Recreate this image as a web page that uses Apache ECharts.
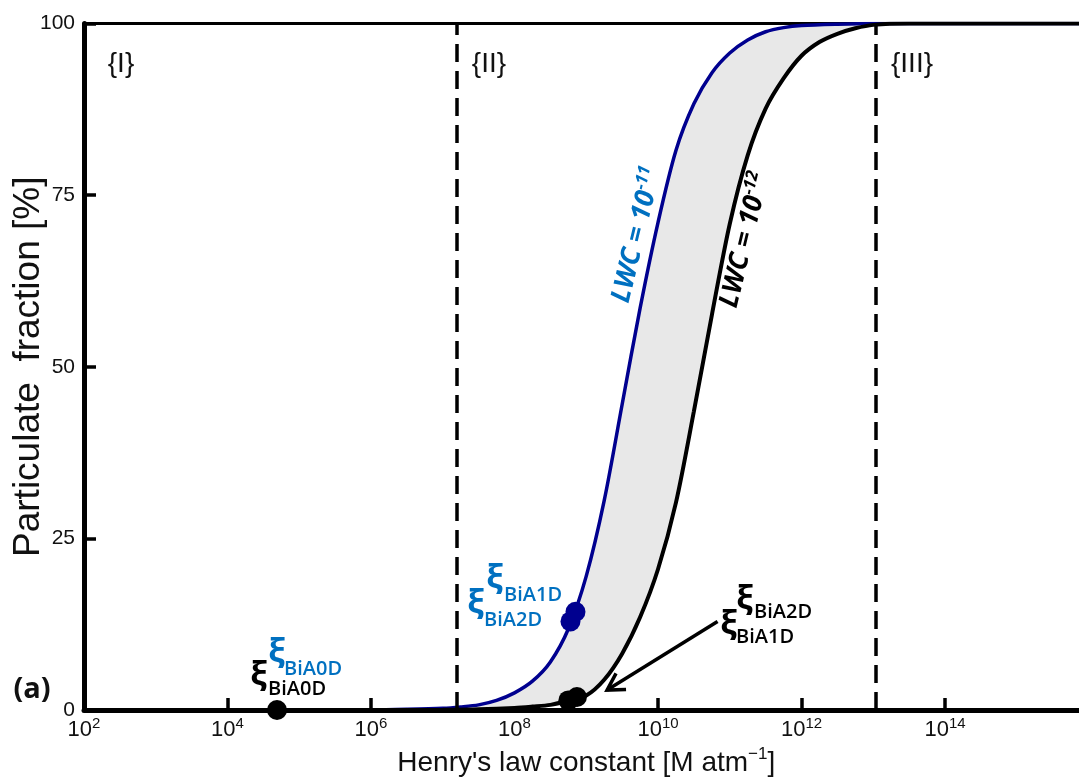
<!DOCTYPE html>
<html><head><meta charset="utf-8">
<script src="https://cdn.jsdelivr.net/npm/echarts@6/dist/echarts.min.js"></script>
<style>html,body{margin:0;padding:0;background:#fff}#c{width:1079px;height:783px}</style>
</head><body><div id="c"></div>
<script>
// ---------- data (x values are log10 of Henry's law constant) ----------
const xTickExp = [2, 4, 6, 8, 10, 12, 14, 16];
const yTicks = [0, 25, 50, 75, 100];
const blueLogH = [2, 6, 6.5, 7.0, 7.25, 7.5, 7.75, 8.0, 8.25, 8.5, 8.75, 9.0, 9.25, 9.5, 9.75, 10.0, 10.25, 10.5, 10.75, 11.0, 11.25, 11.5, 11.75, 12.0, 12.5, 13, 16];
const blueFrac = [0, 0.02, 0.1, 0.25, 0.45, 0.75, 1.4, 2.5, 4.2, 7.0, 11.8, 19.5, 30.5, 44.5, 58.5, 71.0, 81.5, 88.3, 92.8, 95.7, 97.6, 98.8, 99.4, 99.7, 99.9, 100, 100];
const blackLogH = [2, 6.5, 7.0, 7.5, 8.0, 8.25, 8.5, 8.75, 9.0, 9.25, 9.5, 9.75, 10.0, 10.25, 10.5, 10.75, 11.0, 11.25, 11.5, 11.75, 12.0, 12.25, 12.5, 12.75, 13.0, 13.5, 16];
const blackFrac = [0, 0.01, 0.03, 0.1, 0.3, 0.5, 0.75, 1.35, 2.1, 4.4, 8.2, 13.5, 20.5, 30.2, 43.5, 57.5, 70.8, 80.8, 87.6, 92.0, 95.3, 97.3, 98.5, 99.3, 99.8, 100, 100];
const blueDotLogH = [8.78, 8.85];
const blueDotFrac = [12.9, 14.3];
const blackDotLogH = [4.69, 8.75, 8.87];
const blackDotFrac = [0, 1.4, 1.9];
const regionBounds = [7.2, 13.03];
const regionLabels = ['{I}', '{II}', '{III}'];
const arrowFrom = [10.83, 12.9];
const arrowTo = [9.29, 2.9];

// ---------- chart ----------
const SANS = "'Liberation Sans', Arial, Helvetica, sans-serif";
const CAL = "'Open Sans', 'Noto Sans', sans-serif";
const BLUE_LINE = '#00008f';
const BLUE_TXT = '#0070c0';

const bluePts = blueLogH.map((x, i) => [x, blueFrac[i]]);
const blackPts = blackLogH.map((x, i) => [x, blackFrac[i]]);

const chart = echarts.init(document.getElementById('c'), null, {renderer: 'canvas'});

function xiLabel(xx, xy, sx, sy, sub, color) {
  return [
    {type: 'text', x: xx, y: xy, z: 100, style: {text: 'ξ', fill: color, fontSize: 33, fontWeight: 'bold', fontFamily: "'Noto Sans', 'Open Sans', sans-serif",
      align: 'center', verticalAlign: 'middle', textAlign: 'center', textVerticalAlign: 'middle'}},
    {type: 'text', x: sx, y: sy, z: 100, style: {text: sub, fill: color, fontSize: 20, fontWeight: 600, fontFamily: CAL,
      align: 'left', verticalAlign: 'middle', textAlign: 'left', textVerticalAlign: 'middle'}}
  ];
}
function plainText(x, y, text, size, extra) {
  return Object.assign({type: 'text', x: x, y: y, z: 100, style: Object.assign({text: text, fill: '#111', fontSize: size, fontFamily: SANS,
    align: 'center', verticalAlign: 'middle', textAlign: 'center', textVerticalAlign: 'middle'}, extra || {})});
}
function lwcLabel(x, y, sup, color) {
  return {type: 'text', x: x, y: y, z: 100, rotation: 76.5 * Math.PI / 180,
    style: {text: '{a|LWC = 10}{s|' + sup + '}', fill: color, align: 'center', verticalAlign: 'middle',
      textAlign: 'center', textVerticalAlign: 'middle',
      rich: {
        a: {fontSize: 27, fontWeight: 'bold', fontStyle: 'italic', fontFamily: CAL, fill: color, color: color, lineHeight: 32},
        s: {fontSize: 17, fontWeight: 'bold', fontStyle: 'italic', fontFamily: CAL, fill: color, color: color, lineHeight: 20, verticalAlign: 'top'}
      }}};
}

const graphics = [].concat(
  [plainText(121, 64, regionLabels[0], 28), plainText(489, 64, regionLabels[1], 28), plainText(912, 64, regionLabels[2], 28)],
  [plainText(32, 690, '(a)', 29, {fontFamily: CAL, fontWeight: 'bold'})],
  xiLabel(277, 653, 284, 669.5, 'BiA0D', BLUE_TXT),
  xiLabel(259, 676, 268, 689, 'BiA0D', '#000'),
  xiLabel(495, 579, 504, 595.5, 'BiA1D', BLUE_TXT),
  xiLabel(476, 604, 484, 620.5, 'BiA2D', BLUE_TXT),
  xiLabel(745, 600, 754, 612.5, 'BiA2D', '#000'),
  xiLabel(729, 625, 736, 637.5, 'BiA1D', '#000'),
  [lwcLabel(637, 235, '-11', BLUE_TXT), lwcLabel(745, 240, '-12', '#000')]
);

const option = {
  animation: false,
  backgroundColor: '#fff',
  grid: {left: 84, right: -9.5, top: 23.5, bottom: 73, containLabel: false, outerBoundsMode: 'none'},
  xAxis: [{
    type: 'value', min: xTickExp[0], max: xTickExp[xTickExp.length - 1], interval: 2, position: 'bottom',
    axisLine: {show: true, onZero: false, lineStyle: {color: '#000', width: 5}},
    axisTick: {show: true, inside: true, length: 12, lineStyle: {color: '#000', width: 3.5}},
    splitLine: {show: false},
    axisLabel: {
      margin: 6, showMinLabel: true, showMaxLabel: false,
      formatter: v => (v >= 16 ? '' : '{b|10}{s|' + v + '}'),
      rich: {
        b: {fontSize: 22, fontFamily: SANS, color: '#111', lineHeight: 28},
        s: {fontSize: 15, fontFamily: SANS, color: '#111', lineHeight: 18, verticalAlign: 'top'}
      }
    },
    name: "{n|Henry's law constant [M atm}{s|−1}{n|]}",
    nameLocation: 'middle', nameGap: 31,
    nameTextStyle: {
      rich: {
        n: {fontSize: 28, fontFamily: SANS, color: '#111', lineHeight: 34},
        s: {fontSize: 17, fontFamily: SANS, color: '#111', lineHeight: 20, verticalAlign: 'top'}
      }
    }
  }, {
    type: 'value', min: 2, max: 16, position: 'top',
    axisLine: {show: true, onZero: false, lineStyle: {color: '#000', width: 3}},
    axisTick: {show: false}, axisLabel: {show: false}, splitLine: {show: false}
  }],
  yAxis: {
    type: 'value', min: yTicks[0], max: yTicks[yTicks.length - 1], interval: 25,
    axisLine: {show: true, onZero: false, lineStyle: {color: '#000', width: 5}},
    axisTick: {show: true, inside: true, length: 12, lineStyle: {color: '#000', width: 3.5}},
    splitLine: {show: false},
    axisLabel: {margin: 9, fontSize: 21, fontFamily: SANS, color: '#111'},
    name: 'Particulate  fraction [%]', nameLocation: 'middle', nameGap: 37, nameMoveOverlap: false,
    nameTextStyle: {fontSize: 37, fontFamily: SANS, color: '#111'}
  },
  graphic: graphics,
  series: [
    {
      type: 'custom', xAxisIndex: 0, z: 1, silent: true, clip: true,
      data: [[0, 0]],
      renderItem: (params, api) => {
        const pts = bluePts.map(p => api.coord(p)).concat(blackPts.slice().reverse().map(p => api.coord(p)));
        return {type: 'polygon', shape: {points: pts, smooth: 0}, style: {fill: '#e8e8e8', stroke: null}};
      }
    },
    {
      type: 'line', name: 'LWC 1e-11', xAxisIndex: 0, data: bluePts, smooth: 0.3,
      showSymbol: false, z: 3, lineStyle: {color: BLUE_LINE, width: 3.5},
      markLine: {silent: true, symbol: ['none', 'none'], label: {show: false},
        lineStyle: {color: '#000', width: 3.5, type: [18, 9]},
        data: regionBounds.map(v => ({xAxis: v}))}
    },
    {
      type: 'line', name: 'LWC 1e-12', xAxisIndex: 0, data: blackPts, smooth: 0.3,
      showSymbol: false, z: 3, lineStyle: {color: '#000', width: 4}
    },
    {
      type: 'scatter', xAxisIndex: 0, clip: false, z: 5, symbolSize: 20,
      itemStyle: {color: BLUE_LINE, opacity: 1},
      data: blueDotLogH.map((x, i) => [x, blueDotFrac[i]])
    },
    {
      type: 'scatter', xAxisIndex: 0, clip: false, z: 5, symbolSize: 20,
      itemStyle: {color: '#000', opacity: 1},
      data: blackDotLogH.map((x, i) => [x, blackDotFrac[i]])
    },
    {
      type: 'custom', xAxisIndex: 0, z: 6, silent: true, clip: false,
      data: [[arrowFrom[0], arrowFrom[1], arrowTo[0], arrowTo[1]]],
      renderItem: (params, api) => {
        const p1 = api.coord([api.value(0), api.value(1)]);
        const p2 = api.coord([api.value(2), api.value(3)]);
        const dx = p1[0] - p2[0], dy = p1[1] - p2[1];
        const len = Math.hypot(dx, dy), ux = dx / len, uy = dy / len;
        const L = 19, a = 30 * Math.PI / 180;
        const rot = (ang) => [p2[0] + L * (ux * Math.cos(ang) - uy * Math.sin(ang)), p2[1] + L * (ux * Math.sin(ang) + uy * Math.cos(ang))];
        const s = {stroke: '#000', lineWidth: 3.5, fill: null};
        return {type: 'group', children: [
          {type: 'line', shape: {x1: p1[0], y1: p1[1], x2: p2[0], y2: p2[1]}, style: s},
          {type: 'polyline', shape: {points: [rot(a), p2, rot(-a)]}, style: s}
        ]};
      }
    }
  ]
};
chart.setOption(option);
</script>
</body></html>
